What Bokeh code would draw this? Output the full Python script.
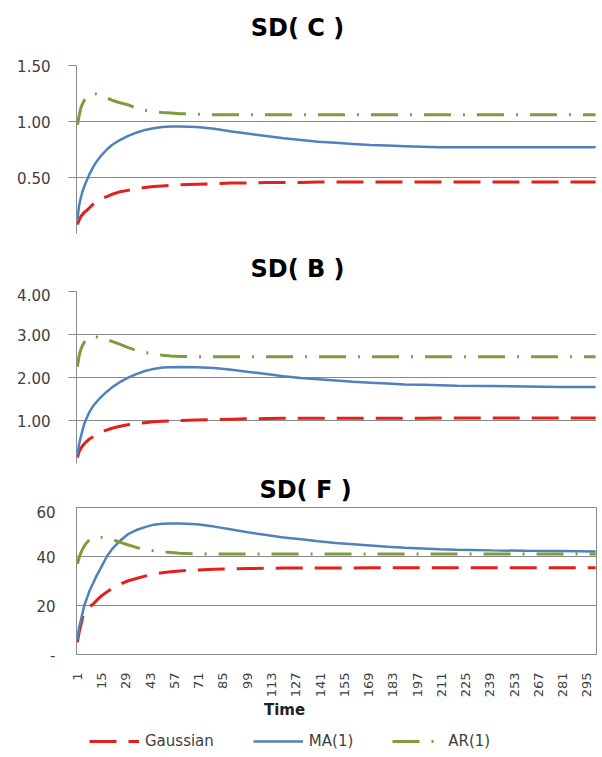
import math
from bokeh.plotting import figure
from bokeh.layouts import column
from bokeh.models import Range1d, FixedTicker, Legend, LegendItem
from bokeh.core.properties import value
from bokeh.embed import file_html
from bokeh.resources import INLINE

# ---------------- data ----------------
t = [1, 2, 3, 4, 5, 6, 8, 10, 12, 15, 18, 21, 25, 30, 35, 40, 45, 50, 55, 60,
     70, 80, 90, 100, 110, 120, 130, 140, 150, 160, 170, 180, 190, 200, 210,
     220, 240, 260, 280, 300]

c_gauss = [0.08, 0.12, 0.15, 0.17, 0.19, 0.20, 0.23, 0.26, 0.28, 0.31, 0.33, 0.35,
           0.37, 0.385, 0.40, 0.41, 0.42, 0.425, 0.43, 0.435, 0.44, 0.445, 0.45,
           0.45, 0.455, 0.455, 0.455, 0.46, 0.46, 0.46, 0.46, 0.46, 0.46, 0.46,
           0.46, 0.46, 0.46, 0.46, 0.46, 0.46]
c_ma = [0.12, 0.25, 0.32, 0.38, 0.42, 0.46, 0.53, 0.59, 0.64, 0.70, 0.75, 0.79,
        0.83, 0.87, 0.90, 0.925, 0.94, 0.95, 0.955, 0.955, 0.95, 0.935, 0.91,
        0.89, 0.87, 0.85, 0.835, 0.82, 0.81, 0.80, 0.79, 0.785, 0.78, 0.775,
        0.77, 0.77, 0.77, 0.77, 0.77, 0.77]
c_ar = [0.97, 1.05, 1.12, 1.16, 1.19, 1.21, 1.24, 1.25, 1.245, 1.23, 1.21, 1.19,
        1.17, 1.15, 1.12, 1.10, 1.09, 1.08, 1.075, 1.07, 1.065, 1.06, 1.06,
        1.06, 1.06, 1.06, 1.06, 1.06, 1.06, 1.06, 1.06, 1.06, 1.06, 1.06,
        1.06, 1.06, 1.06, 1.06, 1.06, 1.06]

b_gauss = [0.14, 0.27, 0.35, 0.41, 0.46, 0.50, 0.57, 0.62, 0.67, 0.73, 0.78, 0.82,
           0.86, 0.90, 0.93, 0.95, 0.97, 0.98, 0.99, 1.00, 1.01, 1.02, 1.03,
           1.04, 1.045, 1.05, 1.05, 1.05, 1.05, 1.05, 1.055, 1.055, 1.055, 1.055,
           1.06, 1.06, 1.06, 1.06, 1.06, 1.06]
b_ma = [0.20, 0.45, 0.62, 0.78, 0.92, 1.03, 1.20, 1.33, 1.43, 1.56, 1.67, 1.77,
        1.88, 1.99, 2.08, 2.15, 2.20, 2.23, 2.24, 2.245, 2.24, 2.22, 2.18, 2.13,
        2.08, 2.03, 1.99, 1.96, 1.93, 1.90, 1.88, 1.86, 1.84, 1.83, 1.82, 1.81,
        1.80, 1.79, 1.78, 1.78]
b_ar = [2.25, 2.50, 2.65, 2.75, 2.82, 2.86, 2.92, 2.95, 2.94, 2.91, 2.88, 2.84,
        2.78, 2.70, 2.63, 2.58, 2.55, 2.52, 2.50, 2.49, 2.48, 2.48, 2.48, 2.48,
        2.48, 2.48, 2.48, 2.48, 2.48, 2.48, 2.48, 2.48, 2.48, 2.48, 2.48, 2.48,
        2.48, 2.48, 2.48, 2.48]

f_gauss = [5, 9, 12, 15, 17, 18, 19.5, 20.5, 22, 24, 25.5, 27, 28.5, 30, 31, 32,
           32.8, 33.4, 33.8, 34.1, 34.5, 34.8, 35.0, 35.1, 35.2, 35.3, 35.3, 35.3,
           35.3, 35.3, 35.4, 35.4, 35.4, 35.4, 35.4, 35.4, 35.4, 35.4, 35.4, 35.4]
f_ma = [6, 11, 14, 17, 20, 22, 26, 29, 32, 36, 40, 43, 46, 49, 50.8, 52, 53, 53.4,
        53.5, 53.5, 53.2, 52.2, 51, 49.8, 48.8, 47.8, 47, 46.2, 45.5, 45, 44.5,
        44, 43.6, 43.3, 43, 42.8, 42.5, 42.3, 42.2, 42]
f_ar = [37, 39.5, 41.5, 43, 44.3, 45.3, 46.8, 47.6, 48, 47.8, 47.4, 46.9, 46, 44.8,
        43.7, 42.8, 42.3, 41.9, 41.6, 41.3, 41.1, 41, 41, 41, 41, 41, 41, 41, 41,
        41, 41, 41, 41, 41, 41, 41, 41, 41, 41, 41]

titles = ["SD( C )", "SD( B )", "SD( F )"]
series_names = ["Gaussian", "MA(1)", "AR(1)"]
c_ticks = [0.5, 1.0, 1.5]
c_labels = ["0.50", "1.00", "1.50"]
b_ticks = [1, 2, 3, 4]
b_labels = ["1.00", "2.00", "3.00", "4.00"]
f_ticks = [0, 20, 40, 60]
f_labels = ["-", "20", "40", "60"]
x_ticks = list(range(1, 300, 14))
x_label = "Time"

# ---------------- styles ----------------
FONT = "DejaVu Sans"
GRID = "#8a8a8a"
TXT = "#404040"
RED = "#E3201C"
BLUE = "#4F81BD"
GREEN = "#7F9B3E"
styles = [dict(color=RED, line_width=3, line_dash="27 12"),
          dict(color=BLUE, line_width=2.5, line_dash="solid"),
          dict(color=GREEN, line_width=3, line_dash="27 12 2 12")]
W = 598
LEFT = 76
RIGHT = 2
FW = W - LEFT - RIGHT


def strip(height):
    """A figure without axes whose frame uses pixel units."""
    s = figure(width=W, height=height, output_backend="svg",
               toolbar_location=None, x_range=Range1d(0, FW),
               y_range=Range1d(0, height), x_axis_location=None,
               y_axis_location=None, min_border_left=LEFT,
               min_border_right=RIGHT, min_border_top=0, min_border_bottom=0)
    s.outline_line_color = None
    s.grid.visible = False
    s.background_fill_color = "white"
    s.border_fill_color = "white"
    return s


def title_strip(height, title, cx, cy):
    s = strip(height)
    s.text(x=[cx], y=[cy], text=[title], text_font=value(FONT),
           text_font_size="24px", text_font_style="bold", text_color="black",
           text_align="center", text_baseline="middle")
    return s


def make_fig(height, top, bottom, ymax, ticks, labels, series, last=False):
    p = figure(width=W, height=height, output_backend="svg",
               toolbar_location=None, x_range=Range1d(0.5, 300.5),
               y_range=Range1d(0, ymax),
               x_axis_location="below" if last else None,
               min_border_top=top, min_border_bottom=bottom,
               min_border_left=LEFT, min_border_right=RIGHT)
    p.background_fill_color = "white"
    p.border_fill_color = "white"
    if last:
        p.outline_line_color = GRID
        p.outline_line_width = 1
    else:
        p.outline_line_color = None
    p.xgrid.grid_line_color = None
    p.ygrid.grid_line_color = GRID
    p.ygrid.grid_line_width = 1
    ya = p.yaxis[0]
    ya.ticker = FixedTicker(ticks=ticks)
    ya.major_label_overrides = {tk: lb for tk, lb in zip(ticks, labels)}
    ya.axis_line_color = GRID
    ya.major_tick_line_color = GRID
    ya.minor_tick_line_color = None
    ya.major_tick_in = 0
    ya.major_tick_out = 0 if last else 8
    ya.major_label_standoff = 21 if last else 18
    ya.major_label_text_font = FONT
    ya.major_label_text_font_size = "15px"
    ya.major_label_text_color = TXT
    p.ygrid.ticker = FixedTicker(ticks=ticks)

    for vals, st in zip(series, styles):
        p.line(t, vals, line_color=st["color"], line_width=st["line_width"],
               line_dash=st["line_dash"])

    if last:
        xa = p.xaxis[0]
        xa.ticker = FixedTicker(ticks=x_ticks)
        xa.major_label_orientation = math.pi / 2
        xa.axis_line_color = GRID
        xa.major_tick_line_color = None
        xa.minor_tick_line_color = None
        xa.major_label_standoff = 12
        xa.major_label_text_font = FONT
        xa.major_label_text_font_size = "13px"
        xa.major_label_text_color = TXT
    return p


s1 = title_strip(48, titles[0], 221, 21)
p1 = make_fig(194, 17, 9, 1.5, c_ticks, c_labels, [c_gauss, c_ma, c_ar])
s2 = title_strip(46, titles[1], 221, 20)
p2 = make_fig(182, 3, 7, 4, b_ticks, b_labels, [b_gauss, b_ma, b_ar])
s3 = title_strip(35, titles[2], 229, 16)
p3 = make_fig(195, 2, 42, 60, f_ticks, f_labels, [f_gauss, f_ma, f_ar],
              last=True)

# bottom strip: axis title and legend
s4 = strip(56)
s4.text(x=[208], y=[47], text=[x_label], text_font=value(FONT),
        text_font_size="15px", text_font_style="bold", text_color="#202020",
        text_align="center", text_baseline="middle")
nan = float("nan")
proxies = []
for st in styles:
    proxies.append(s4.line([nan], [nan], line_color=st["color"],
                           line_width=st["line_width"],
                           line_dash=st["line_dash"]))
legend = Legend(items=[LegendItem(label=n, renderers=[r])
                       for n, r in zip(series_names, proxies)],
                location=(13, 6), orientation="horizontal")
legend.padding = 0
legend.margin = 0
legend.spacing = 39
legend.glyph_width = 50
legend.glyph_height = 16
legend.label_height = 16
legend.label_standoff = 6
legend.label_text_font = FONT
legend.label_text_font_size = "15px"
legend.label_text_color = TXT
legend.border_line_color = None
legend.background_fill_alpha = 0
s4.add_layout(legend, "center")

layout = column(s1, p1, s2, p2, s3, p3, s4, spacing=0)
open("out.html", "w").write(file_html(layout, INLINE))
